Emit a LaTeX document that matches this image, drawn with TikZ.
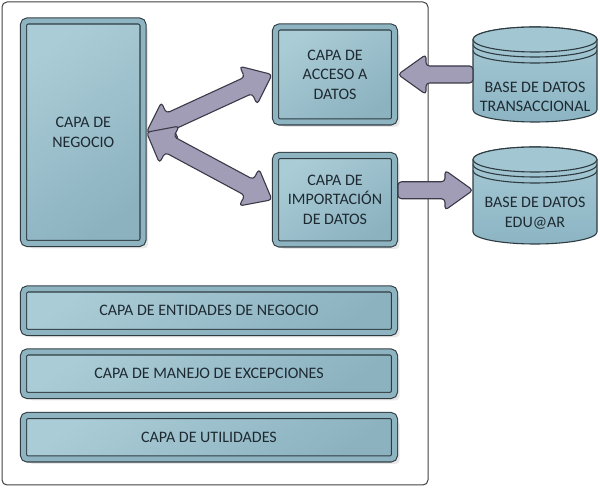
\documentclass[tikz,border=0pt]{standalone}
\usepackage{fontspec}
\setmainfont{Carlito}
\usetikzlibrary{calc,shadows}

\definecolor{bordecapa}{RGB}{46,60,66}
\definecolor{capaclaro}{RGB}{170,204,214}
\definecolor{capaoscuro}{RGB}{140,178,192}
\definecolor{capamedio}{RGB}{142,180,194}
\definecolor{bdclaro}{RGB}{168,203,214}
\definecolor{bdoscuro}{RGB}{140,180,195}
\definecolor{bdtapa}{RGB}{162,198,210}
\definecolor{flechafondo}{RGB}{161,157,183}
\definecolor{flechaborde}{RGB}{58,58,72}
\definecolor{texto}{RGB}{30,42,50}

\tikzset{
  marco/.style={draw=black!75, line width=1pt, rounded corners=5pt},
  capa/.style={draw=bordecapa, line width=1.1pt, double=capamedio, double distance=5pt,
    rounded corners=4pt, top color=capaclaro, bottom color=capaoscuro, shading angle=35,
    outer sep=3.5pt, inner sep=0pt, align=center, text=texto,
    font=\fontsize{16}{19.5}\selectfont,
    drop shadow={shadow xshift=5pt, shadow yshift=-5pt, opacity=0.18}},
  barra/.style={capa, minimum width=371pt, minimum height=43.5pt},
  bd/.style={minimum width=124pt, minimum height=95pt, inner sep=0pt, outer sep=0pt},
  bdtexto/.style={align=center, text=texto, font=\fontsize{16}{19.5}\selectfont},
  cuerpo/.style={draw=bordecapa, line width=1.1pt, top color=bdclaro, bottom color=bdoscuro},
  tapa/.style={draw=bordecapa, line width=1.1pt, fill=bdtapa},
  flechagorda/.style={draw=flechaborde, line width=1.1pt, fill=flechafondo,
    rounded corners=3.5pt, line join=round}
}

% cilindro de base de datos alrededor de un nodo
\newcommand{\cilindro}[1]{%
  \path[cuerpo] ([yshift=-12.5pt]#1.north west) -- ([yshift=12pt]#1.south west)
    arc[start angle=180,end angle=360,x radius=62pt,y radius=12pt]
    -- ([yshift=-12.5pt]#1.north east)
    arc[start angle=0,end angle=180,x radius=62pt,y radius=12.5pt] -- cycle;
  \path[tapa] ([yshift=-12.5pt]#1.north) ellipse[x radius=62pt,y radius=12.5pt];
  \draw[bordecapa,line width=1.1pt] ([yshift=-17.5pt]#1.north west)
    arc[start angle=180,end angle=360,x radius=62pt,y radius=12.5pt];
  \draw[bordecapa,line width=1.1pt] ([yshift=-23.5pt]#1.north west)
    arc[start angle=180,end angle=360,x radius=62pt,y radius=12.5pt];
}

% flecha gruesa de doble punta
\newcommand{\flechadoble}[2]{%
  \path[flechagorda] (#1)
    -- ($(#1)!26pt!(#2)!21pt!90:(#2)$) -- ($(#1)!26pt!(#2)!9pt!90:(#2)$)
    -- ($(#2)!26pt!(#1)!9pt!-90:(#1)$) -- ($(#2)!26pt!(#1)!21pt!-90:(#1)$)
    -- (#2)
    -- ($(#2)!26pt!(#1)!21pt!90:(#1)$) -- ($(#2)!26pt!(#1)!9pt!90:(#1)$)
    -- ($(#1)!26pt!(#2)!9pt!-90:(#2)$) -- ($(#1)!26pt!(#2)!21pt!-90:(#2)$)
    -- cycle;
}

% flecha gruesa simple
\newcommand{\flecha}[2]{%
  \path[flechagorda] ($(#1)!8.5pt!90:(#2)$)
    -- ($(#2)!28pt!(#1)!8.5pt!-90:(#1)$) -- ($(#2)!28pt!(#1)!20pt!-90:(#1)$)
    -- (#2)
    -- ($(#2)!28pt!(#1)!20pt!90:(#1)$) -- ($(#2)!28pt!(#1)!8.5pt!90:(#1)$)
    -- ($(#1)!8.5pt!-90:(#2)$) -- cycle;
}

\begin{document}
\begin{tikzpicture}[x=1pt,y=1pt]
  \useasboundingbox (0,0) rectangle (600,489);
  \node[marco, minimum width=426pt, minimum height=483pt] (sistema) at (215,245.5) {};

  % capas del sistema
  \node[capa, minimum width=119.5pt, minimum height=222.5pt] (negocio) at (83.25,356.75) {CAPA DE\\NEGOCIO};
  \node[capa, minimum width=119pt, minimum height=95pt] (acceso) at (335,414.5) {CAPA DE\\ACCESO A\\DATOS};
  \node[capa, minimum width=119pt, minimum height=88.5pt] (importacion) at (335,289.25) {CAPA DE\\IMPORTACIÓN\\DE DATOS};
  \node[barra] (entidades) at (209,178.25) {CAPA DE ENTIDADES DE NEGOCIO};
  \node[barra] (excepciones) at (209,115.25) {CAPA DE MANEJO DE EXCEPCIONES};
  \node[barra] (utilidades) at (209,51.75) {CAPA DE UTILIDADES};

  % bases de datos
  \node[bd] (trans) at (535,414.5) {};
  \cilindro{trans}
  \node[bdtexto] (txttrans) at ([yshift=-22.5pt]trans.center) {BASE DE DATOS\\TRANSACCIONAL};
  \node[bd, minimum height=97pt] (eduar) at (535,293.5) {};
  \cilindro{eduar}
  \node[bdtexto] (txteduar) at ([yshift=-17.5pt]eduar.center) {BASE DE DATOS\\EDU@AR};

  % flechas
  \flechadoble{negocio.east}{acceso.west}
  \flechadoble{negocio.east}{importacion.west}
  \flecha{trans.west}{acceso.east}
  \coordinate (salida) at ([yshift=9.5pt]importacion.east);
  \coordinate (llegada) at (salida -| eduar.west);
  \flecha{salida}{llegada}
\end{tikzpicture}
\end{document}
